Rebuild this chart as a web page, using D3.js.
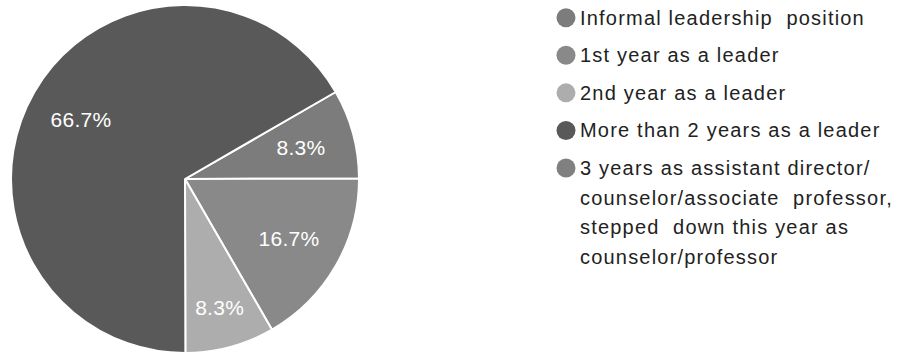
<!DOCTYPE html>
<html>
<head>
<meta charset="utf-8">
<script src="https://cdn.jsdelivr.net/npm/d3@7"></script>
<style>
  html, body { margin: 0; padding: 0; background: #fff; }
  svg { display: block; }
</style>
</head>
<body>
<svg id="chart" width="898" height="354"></svg>
<script>
// Leadership experience of respondents
const categories = [
  "Informal leadership position",
  "1st year as a leader",
  "2nd year as a leader",
  "More than 2 years as a leader",
  "3 years as assistant director/counselor/associate professor, stepped down this year as counselor/professor"
];
const legendLines = [
  ["Informal leadership  position"],
  ["1st year as a leader"],
  ["2nd year as a leader"],
  ["More than 2 years as a leader"],
  ["3 years as assistant director/", "counselor/associate  professor,", "stepped  down this year as", "counselor/professor"]
];
const values = [8.3, 16.7, 8.3, 66.7, 0];
const colors = ["#7c7c7c", "#898989", "#adadad", "#595959", "#808080"];

const svg = d3.select("#chart");
const cx = 185, cy = 179, R = 174;
const font = "Liberation Sans, Arial, sans-serif";

const pie = d3.pie()
  .value(d => d)
  .sort(null)
  .startAngle(Math.PI / 3)
  .endAngle(Math.PI / 3 + 2 * Math.PI);

const arcs = pie(values).filter(d => d.value > 0);
const arc = d3.arc().innerRadius(0).outerRadius(R);

const g = svg.append("g").attr("transform", `translate(${cx},${cy})`);

g.selectAll("path.slice")
  .data(arcs)
  .enter().append("path")
  .attr("class", "slice")
  .attr("d", arc)
  .attr("fill", d => colors[d.index])
  .attr("stroke", "#ffffff")
  .attr("stroke-width", 2)
  .attr("stroke-linejoin", "round");

// percentage labels, pushed outward when a slice is too narrow for the text
const labels = g.selectAll("text.pct")
  .data(arcs)
  .enter().append("text")
  .attr("class", "pct")
  .attr("text-anchor", "middle")
  .attr("dominant-baseline", "central")
  .attr("font-family", font)
  .attr("font-size", 21)
  .attr("letter-spacing", 0.3)
  .attr("fill", "#ffffff")
  .text(d => d.value.toFixed(1) + "%");

labels.attr("transform", function (d) {
  const w = this.getComputedTextLength();
  const h = 16;
  const mid = (d.startAngle + d.endAngle) / 2;
  const span = d.endAngle - d.startAngle;
  const across = w * Math.abs(Math.cos(mid)) + h * Math.abs(Math.sin(mid));
  const r = Math.min(R * 0.8, Math.max(R * 0.69, 1.35 * across / span));
  return `translate(${r * Math.sin(mid)},${-r * Math.cos(mid)})`;
});

// legend
const legend = svg.append("g").attr("transform", "translate(566,0)");
const rowY = d3.scalePoint().domain(d3.range(categories.length)).range([17.7, 168]);
const lineGap = 29.5;

const rows = legend.selectAll("g.row")
  .data(categories)
  .enter().append("g")
  .attr("class", "row")
  .attr("transform", (d, i) => `translate(0,${rowY(i)})`);

rows.append("circle")
  .attr("r", 9.5)
  .attr("fill", (d, i) => colors[i]);

rows.append("text")
  .attr("x", 14)
  .attr("font-family", font)
  .attr("font-size", 20)
  .attr("letter-spacing", 1.2)
  .attr("fill", "#222222")
  .style("white-space", "pre")
  .selectAll("tspan")
  .data((d, i) => legendLines[i])
  .enter().append("tspan")
  .attr("x", 14)
  .attr("y", (d, j) => j * lineGap)
  .attr("dy", "0.35em")
  .text(d => d);
</script>
</body>
</html>
